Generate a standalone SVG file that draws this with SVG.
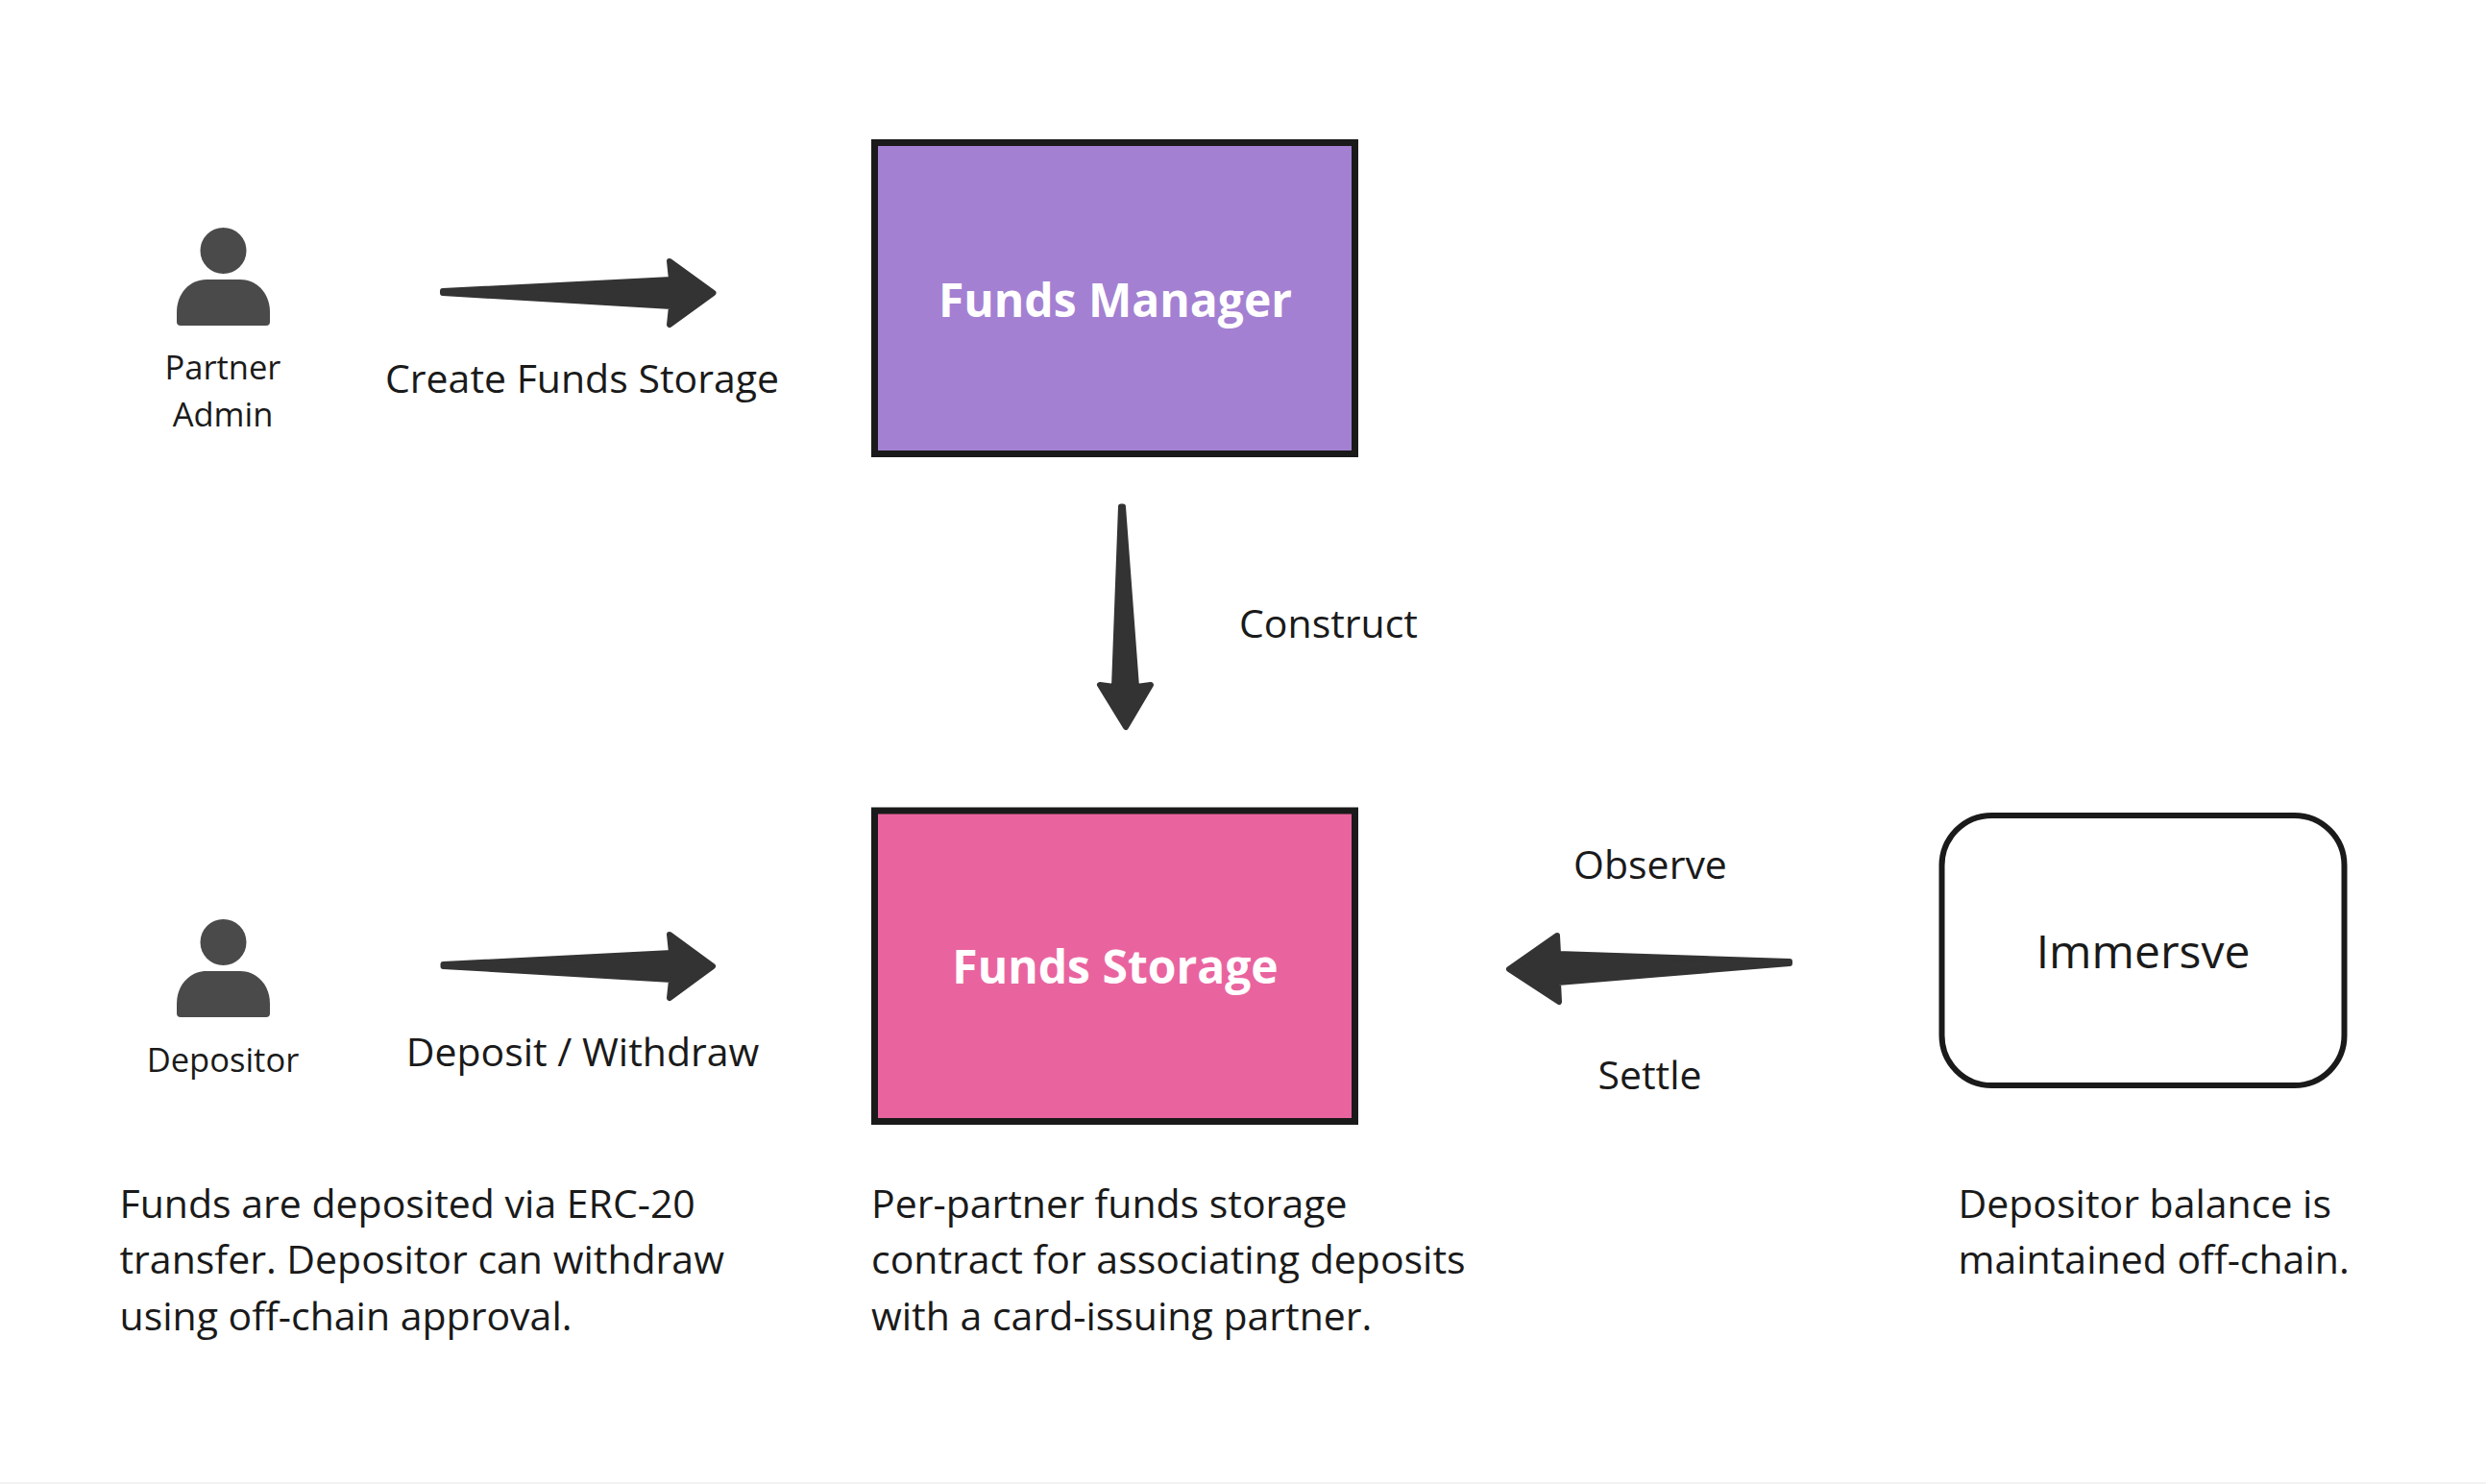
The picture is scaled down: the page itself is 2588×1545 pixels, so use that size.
<svg xmlns="http://www.w3.org/2000/svg" width="2588" height="1545" viewBox="0 0 2588 1545">
<style>
text{font-family:"Open Sans","Noto Sans","Liberation Sans",sans-serif;fill:#1a1a1a}
.l{font-size:41px}.s{font-size:34.500px}.c{text-anchor:middle}
.b{font-size:48px;font-weight:700;fill:#fff;text-anchor:middle}
.box{stroke:#1a1a1a;stroke-width:7}
.arrow{fill:#333;stroke:#333;stroke-width:6;stroke-linejoin:round}
.person{fill:#4a4a4a}
</style>
<rect width="2588" height="1545" fill="#fff"/>
<rect y="1543" width="2588" height="2" fill="#f2f2f2"/>
<g id="connectors">
<path class="arrow" d="M461 303L699 291L697 272L742.500 305L697 338L699 319L461 305Z"/>
<path class="arrow" d="M461.500 1004L699 992L697 973L742 1006L697 1039L699 1020L461.500 1006Z"/>
<path class="arrow" d="M1167 527.600H1169L1183 715L1198 713L1172 757L1145 713L1160 715Z"/>
<path class="arrow" d="M1863 1001L1622 993L1621 974L1571 1009L1623 1043L1622 1023L1863 1003Z"/>
</g>
<g id="partner-admin">
<g class="person"><circle cx="232.500" cy="261" r="24"/><path d="M188 339Q184 339 184 335V325C184 305 198 291 215 291H250C267 291 281 305 281 325V335Q281 339 277 339Z"/></g>
<text class="s c" x="232" y="395">Partner</text><text class="s c" x="232" y="444">Admin</text>
</g>
<g id="depositor">
<g class="person"><circle cx="232.500" cy="981" r="24"/><path d="M188 1059Q184 1059 184 1055V1045C184 1025 198 1011 215 1011H250C267 1011 281 1025 281 1045V1055Q281 1059 277 1059Z"/></g>
<text class="s c" x="232" y="1115.500">Depositor</text>
</g>
<g id="funds-manager"><rect class="box" fill="#a480d2" x="910.500" y="148.500" width="500" height="324"/><text class="b" x="1161" y="329.500">Funds Manager</text></g>
<g id="funds-storage"><rect class="box" fill="#e9649f" x="910.500" y="844" width="500" height="323.500"/><text class="b" x="1161" y="1024">Funds Storage</text></g>
<g id="immersve"><rect x="2021.500" y="849" width="419" height="281" rx="52" fill="#fff" stroke="#1a1a1a" stroke-width="6"/><text class="c" font-size="48" x="2231" y="1008">Immersve</text></g>
<g id="labels">
<text class="l c" x="606" y="409">Create Funds Storage</text>
<text class="l c" x="606.500" y="1110">Deposit / Withdraw</text>
<text class="l c" x="1383" y="664">Construct</text>
<text class="l c" x="1718" y="915">Observe</text>
<text class="l c" x="1717.500" y="1134">Settle</text>
<text class="l" x="124.500" y="1268">Funds are deposited via ERC-20</text>
<text class="l" x="124.500" y="1326">transfer. Depositor can withdraw</text>
<text class="l" x="124.500" y="1385">using off-chain approval.</text>
<text class="l" x="907" y="1268">Per-partner funds storage</text>
<text class="l" x="907" y="1326">contract for associating deposits</text>
<text class="l" x="907" y="1385">with a card-issuing partner.</text>
<text class="l" x="2038.500" y="1268">Depositor balance is</text>
<text class="l" x="2038.500" y="1326">maintained off-chain.</text>
</g>
</svg>
